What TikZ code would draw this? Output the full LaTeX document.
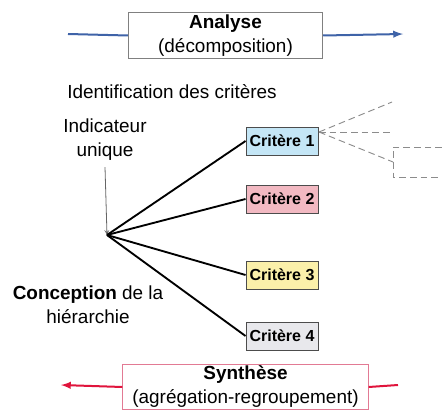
\documentclass[tikz,border=0pt]{standalone}
\usepackage{fontspec}
\setmainfont{Liberation Sans}
\usepackage{xcolor}
\usepackage{tikz}
\usetikzlibrary{arrows,positioning,calc}
\definecolor{analyseblue}{HTML}{3F63A8}
\definecolor{synthred}{HTML}{E0143C}
\definecolor{synthedge}{HTML}{E27A94}
\definecolor{critblue}{HTML}{C4E6F6}
\definecolor{critpink}{HTML}{F2B9C2}
\definecolor{crityellow}{HTML}{FBF0AA}
\definecolor{critgrey}{HTML}{E8E8EC}

\begin{document}
\begin{tikzpicture}[x=0.75pt, y=-0.75pt,
  phase/.style={draw, line width=0.6pt, align=center, inner sep=1pt, font=\fontsize{14.2}{18}\selectfont},
  crit/.style={draw=black!70, line width=0.7pt, minimum width=54pt, minimum height=21pt, inner sep=1pt, font=\fontsize{12}{14}\selectfont\bfseries},
  txt/.style={align=center, inner sep=0pt, font=\fontsize{14.2}{18}\selectfont},
  flow/.style={line width=1.5pt},
  sub/.style={black!45, line width=0.7pt, dash pattern=on 5pt off 3pt},
  ]
  \useasboundingbox (0,0) rectangle (442,410);
  % phases
  \node[phase, draw=black!50, minimum width=146pt, minimum height=34pt] (analyse) at (225.5,35.5) {\textbf{Analyse}\\(décomposition)};
  \node[phase, draw=synthedge, minimum width=184pt, minimum height=33pt] (synthese) at (245.5,387) {\textbf{Synthèse}\\(agrégation-regroupement)};
  \coordinate (a-in) at (68,34);
  \coordinate (a-out) at (403,34);
  \coordinate (s-in) at (398,385);
  \coordinate (s-out) at (61,385);
  \draw[analyseblue, flow] (a-in) -- (analyse.west);
  \draw[analyseblue, flow, -latex] (analyse.east) -- (a-out);
  \draw[synthred, flow] (s-in) -- (synthese.east);
  \draw[synthred, flow, -latex] (synthese.west) -- (s-out);

  % labels
  \node[txt] (ident) at (172,92) {Identification des critères};
  \node[txt] (indic) at (105,140) {Indicateur\\unique};
  \node[txt] (concep) at (88,305) {\textbf{Conception} de la\\hiérarchie};

  % criteres
  \node[crit, fill=critblue] (c1) at (282,141) {Critère 1};
  \node[crit, fill=critpink] (c2) at (282,199) {Critère 2};
  \node[crit, fill=crityellow] (c3) at (282,275) {Critère 3};
  \node[crit, fill=critgrey] (c4) at (282,336) {Critère 4};

  \coordinate (hub) at (107,235);
  \draw[black!60, line width=0.6pt, -stealth] (indic.south) ++(0,6) -- (hub);
  \foreach \c in {c1,c2,c3,c4}
    \draw[line width=1.4pt] (hub) -- (\c.west);

  % sous-criteres
  \coordinate (fan) at (319,132);
  \coordinate (f1) at (392,102);
  \coordinate (f2) at (393,132);
  \coordinate (f3) at (393,162);
  \coordinate (b1) at (442,147);
  \coordinate (b2) at (393,147);
  \coordinate (b3) at (393,177);
  \coordinate (b4) at (440,177);
  \draw[sub] (fan) -- (f1);
  \draw[sub] (fan) -- (f2);
  \draw[sub] (fan) -- (f3);
  \draw[sub] (b1) -- (b2) -- (b3) -- (b4);
\end{tikzpicture}
\end{document}
